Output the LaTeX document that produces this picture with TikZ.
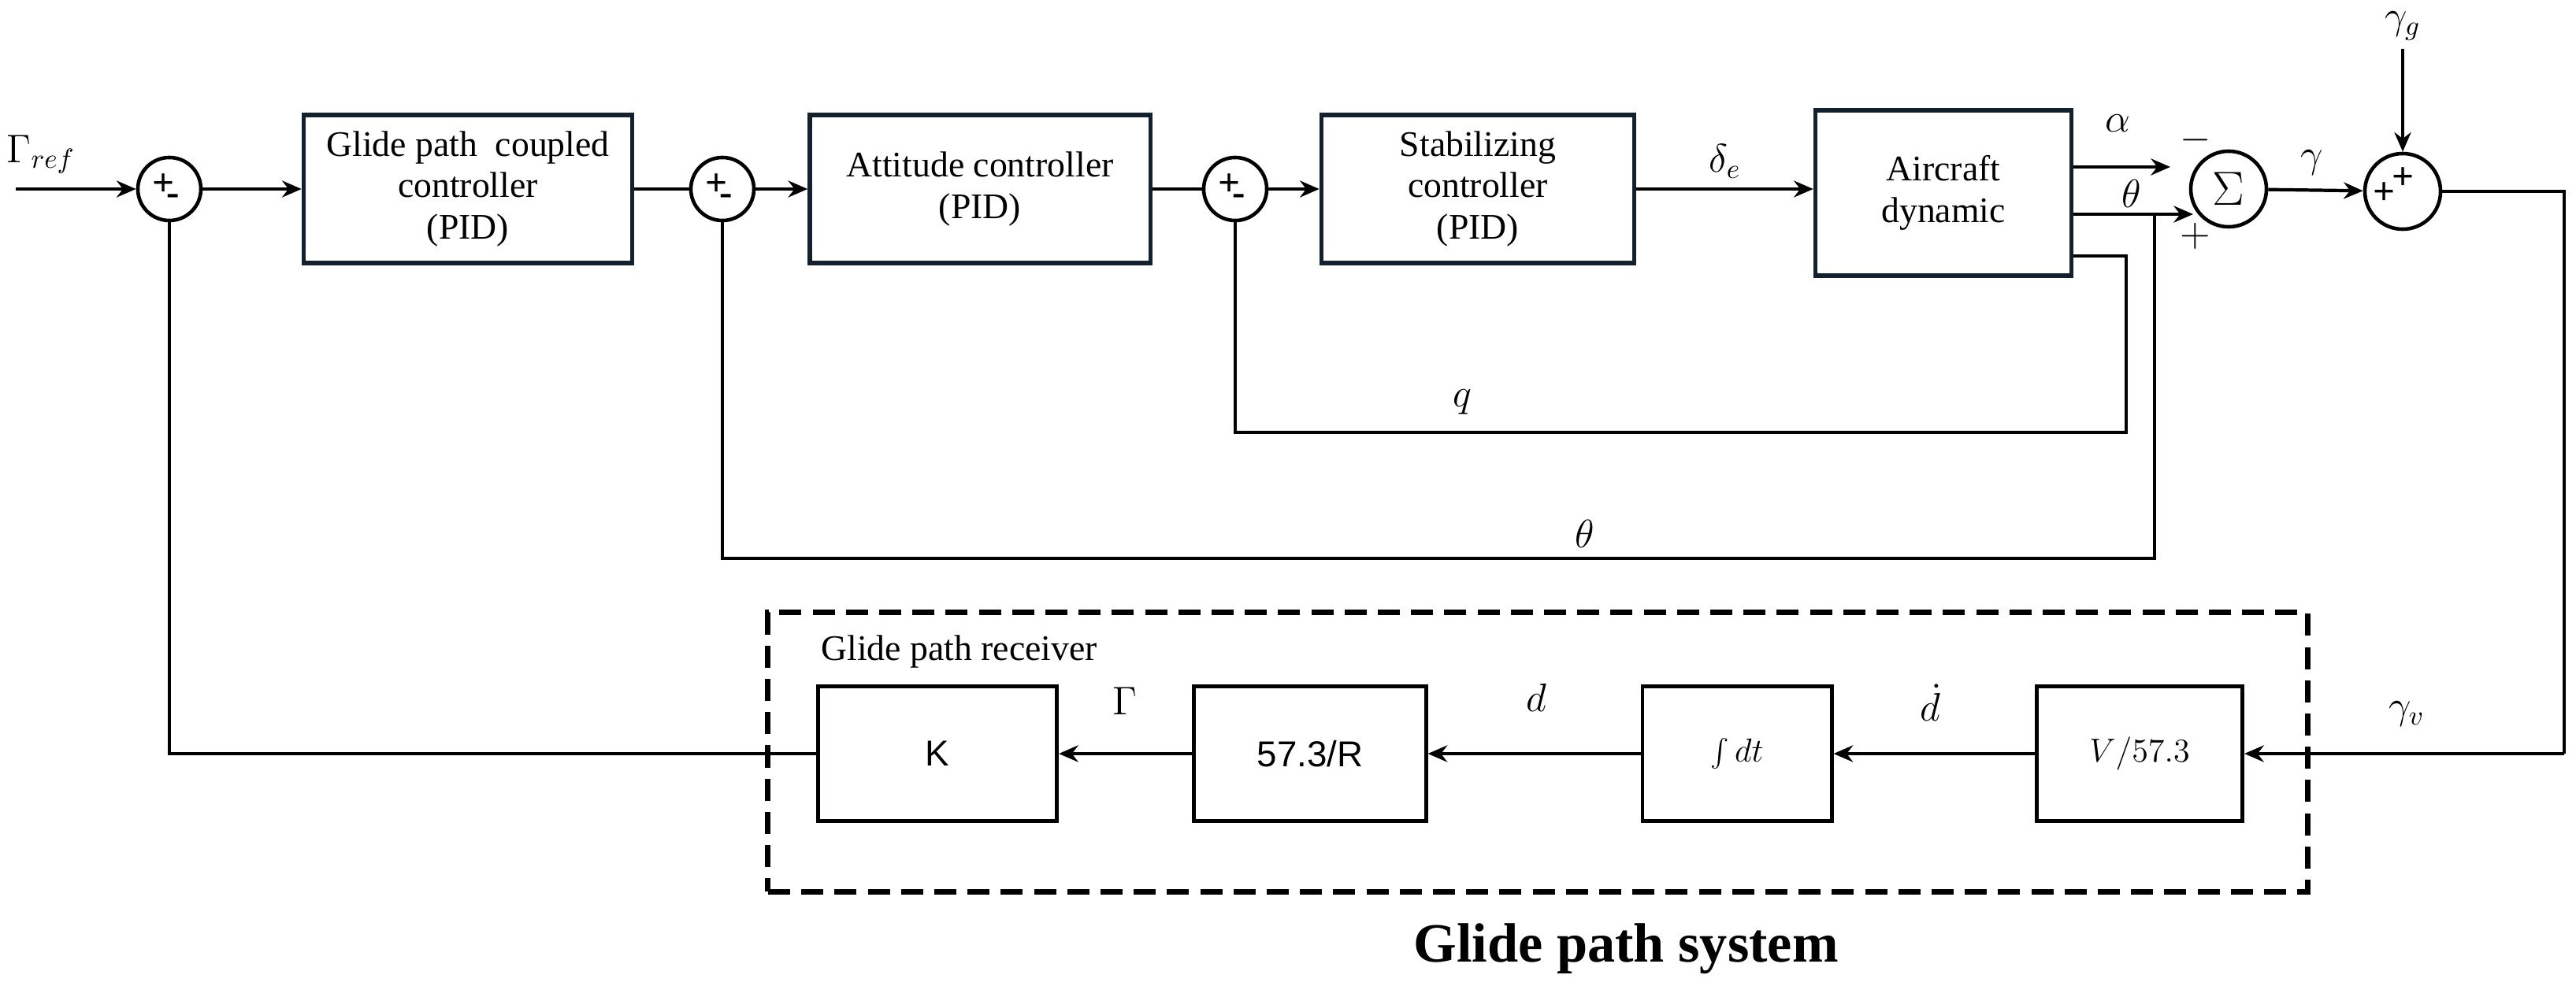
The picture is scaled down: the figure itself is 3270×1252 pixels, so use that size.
\documentclass[tikz,border=0pt]{standalone}
\usepackage{fontspec}
\setmainfont{Liberation Serif}
\newfontfamily\arialf{Liberation Sans}
\usetikzlibrary{arrows.meta}
\definecolor{bx}{HTML}{13212E}
\begin{document}
\begin{tikzpicture}[x=0.01cm,y=-0.01cm,
  ln/.style={line width=1.2pt},
  ar/.style={ln,-{Stealth[length=7pt,width=6pt]}},
  blk/.style={draw=bx,line width=1.5pt,align=center,font=\rmfamily\fontsize{13}{15}\selectfont,inner sep=0pt},
  gblk/.style={draw=black,line width=1.4pt,align=center,font=\rmfamily\fontsize{13}{15}\selectfont,inner sep=0pt},
  sm/.style={draw,circle,line width=1.3pt,inner sep=0pt},
  pm/.style={font=\bfseries\fontsize{14}{14}\selectfont,inner sep=0pt},
  lab/.style={font=\fontsize{14}{16}\selectfont}]
\useasboundingbox (0,0) rectangle (3270,1252);
% sums
\node[sm,minimum size=0.8cm] (s1) at (215,240) {};
\node[sm,minimum size=0.8cm] (s2) at (917,240) {};
\node[sm,minimum size=0.8cm] (s3) at (1568,240) {};
\foreach \s in {s1,s2,s3}{
  \node[pm] at ([xshift=-0.07cm,yshift=0.05cm]\s.center) {+};
  \node[pm] at ([xshift=0.05cm,yshift=-0.14cm]\s.center) {-};}
\node[sm,minimum size=0.96cm] (sg) at (2829,240) {\fontsize{17}{17}\selectfont$\Sigma$};
\node[sm,minimum size=0.96cm] (s4) at (3050,243) {};
\node[pm] at ([yshift=0.16cm]s4.center) {+};
\node[pm] at ([xshift=-0.24cm,yshift=-0.03cm]s4.center) {+};
% blocks
\node[blk,minimum width=4.17cm,minimum height=1.88cm] (b1) at (594,240) {Glide path\ \ coupled\\controller\\(PID)};
\node[blk,minimum width=4.32cm,minimum height=1.88cm] (b2) at (1244,240) {Attitude controller\\(PID)};
\node[blk,minimum width=3.97cm,minimum height=1.88cm] (b3) at (1876,240) {Stabilizing\\controller\\(PID)};
\node[blk,minimum width=3.25cm,minimum height=2.1cm] (b4) at (2467,245) {Aircraft\\dynamic};
% receiver
\node[draw,line width=2pt,dash pattern=on 8pt off 4pt,minimum width=19.53cm,minimum height=3.54cm] (rx) at (1952,955) {};
\node[lab,anchor=west,font=\rmfamily\fontsize{13}{15}\selectfont] (rxl) at (1030,828) {Glide path receiver};
\node[gblk,minimum width=3.03cm,minimum height=1.71cm,font=\arialf\fontsize{13}{15}\selectfont] (k) at (1190,957) {K};
\node[gblk,minimum width=2.94cm,minimum height=1.71cm,font=\arialf\fontsize{13}{15}\selectfont] (r) at (1663,957) {57.3/R};
\node[gblk,minimum width=2.4cm,minimum height=1.71cm] (it) at (2205,957) {$\int dt$};
\node[gblk,minimum width=2.61cm,minimum height=1.71cm] (v) at (2716,957) {$V/57.3$};
% coords
\coordinate (in) at (20,240);
\coordinate (gg) at (3050,62);
\coordinate (c1) at (3255,243);
\coordinate (c2) at (3255,957);
\coordinate (q1) at (2699,325);
\coordinate (q2) at (2699,549);
\coordinate (q3) at (1568,549);
\coordinate (t1) at (2735,272);
\coordinate (t2) at (2735,709);
\coordinate (t3) at (917,709);
\coordinate (f1) at (215,957);
% connectors
\draw[ar] (in) -- (s1);
\draw[ar] (s1) -- (b1);
\draw[ln] (b1) -- (s2);
\draw[ar] (s2) -- (b2);
\draw[ln] (b2) -- (s3);
\draw[ar] (s3) -- (b3);
\draw[ar] (b3.east) -- (b4.west |- b3.east);
\draw[ar] (b4.east |- 0,212) -- (2755,212);
\draw[ar] (b4.east |- 0,272) -- (2784,272);
\draw[ar] (sg) -- (s4);
\draw[ar] (gg) -- (s4);
\draw[ln] (s4) -- (c1) -- (c2);
\draw[ar] (c2) -- (v);
\draw[ar] (v) -- (it);
\draw[ar] (it) -- (r);
\draw[ar] (r) -- (k);
\draw[ln] (k) -- (f1) -- (s1);
\draw[ln] (b4.east |- q1) -- (q1) -- (q2) -- (q3) -- (s3);
\draw[ln] (t1) -- (t2) -- (t3) -- (s2);
% labels
\node[lab] at (52,196) {$\Gamma_{ref}$};
\node[lab] at (2190,205) {$\delta_e$};
\node[lab] at (2688,157) {$\alpha$};
\node[lab] at (2706,246) {$\theta$};
\node[lab] at (2787,178) {$-$};
\node[lab] at (2787,300) {$+$};
\node[lab] at (2935,207) {$\gamma$};
\node[lab] at (3050,33) {$\gamma_g$};
\node[lab] at (1856,511) {$q$};
\node[lab] at (2012,678) {$\theta$};
\node[lab] at (1428,890) {$\Gamma$};
\node[lab] at (1950,886) {$d$};
\node[lab] at (2450,892) {$\dot d$};
\node[lab] at (3055,907) {$\gamma_v$};
\node[font=\rmfamily\bfseries\fontsize{20}{22}\selectfont] at (2064,1205) {Glide path system};
\end{tikzpicture}
\end{document}
